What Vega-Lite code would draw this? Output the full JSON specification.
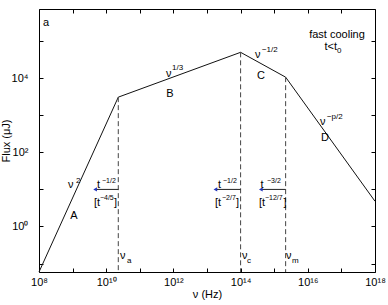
{
  "$schema": "https://vega.github.io/schema/vega-lite/v6.json",
  "autosize": {"type": "none"},
  "padding": {"left": 39, "top": 9, "right": 13, "bottom": 33},
  "width": 336,
  "height": 263,
  "background": "white",
  "config": {
    "view": {"stroke": "#000", "strokeWidth": 1},
    "font": "Liberation Sans",
    "axis": {"grid": false, "domain": false, "tickColor": "#000", "tickSize": -4, "labelColor": "#000", "labelFont": "Liberation Sans", "labelFontSize": 11, "titleFont": "Liberation Sans", "titleFontSize": 11, "titleFontWeight": "normal", "titleColor": "#000"}
  },
  "datasets": {
    "spectrum": [
      {"nu": 1e8, "flux": 0.059},
      {"nu": 2.29e10, "flux": 3090},
      {"nu": 1e14, "flux": 50100},
      {"nu": 2.19e15, "flux": 10700},
      {"nu": 1e18, "flux": 4.79}
    ],
    "breaks": [
      {"nu": 2.29e10, "flux": 3090, "base": 0.059},
      {"nu": 1e14, "flux": 50100, "base": 0.059},
      {"nu": 2.19e15, "flux": 10700, "base": 0.059}
    ],
    "arrows": [
      {"from": 4.68e9, "to": 2.29e10, "flux": 10},
      {"from": 1.78e13, "to": 1e14, "flux": 10},
      {"from": 4.0e14, "to": 2.19e15, "flux": 10}
    ],
    "textLeft": [
      {"nu": 1.32e8, "flux": 3.1e5, "t": "a"},
      {"nu": 6.0e11, "flux": 1.3e4, "t": "ν"},
      {"nu": 2.7e14, "flux": 4.25e4, "t": "ν"},
      {"nu": 2.3e16, "flux": 659, "t": "ν"},
      {"nu": 7.3e8, "flux": 13.1, "t": "ν"},
      {"nu": 5.3e9, "flux": 13.1, "t": "t"},
      {"nu": 4.3e9, "flux": 4.29, "t": "[t"},
      {"nu": 1.7e10, "flux": 4.29, "t": "]"},
      {"nu": 2.12e13, "flux": 13.1, "t": "t"},
      {"nu": 1.72e13, "flux": 4.29, "t": "[t"},
      {"nu": 7.3e13, "flux": 4.29, "t": "]"},
      {"nu": 3.9e14, "flux": 13.1, "t": "t"},
      {"nu": 3.5e14, "flux": 4.29, "t": "[t"},
      {"nu": 1.9e15, "flux": 4.29, "t": "]"},
      {"nu": 2.58e10, "flux": 0.159, "t": "ν"},
      {"nu": 1.10e14, "flux": 0.159, "t": "ν"},
      {"nu": 2.24e15, "flux": 0.159, "t": "ν"}
    ],
    "textCenter": [
      {"nu": 7.9e11, "flux": 3760, "t": "B"},
      {"nu": 4.05e14, "flux": 1.15e4, "t": "C"},
      {"nu": 3.25e16, "flux": 244, "t": "D"},
      {"nu": 1.1e9, "flux": 1.91, "t": "A"},
      {"nu": 7.4e16, "flux": 1.47e5, "t": "fast cooling"}
    ],
    "textRight": [
      {"nu": 7.4e16, "flux": 6.98e4, "t": "t<t"}
    ],
    "supNu": [
      {"nu": 9.1e11, "flux": 1.89e4, "t": "1/3"},
      {"nu": 4.3e14, "flux": 5.8e4, "t": "−1/2"},
      {"nu": 3.7e16, "flux": 900, "t": "−p/2"},
      {"nu": 1.26e9, "flux": 16.8, "t": "2"},
      {"nu": 7.4e16, "flux": 5.45e4, "t": "0"},
      {"nu": 4.16e10, "flux": 0.117, "t": "a"},
      {"nu": 1.55e14, "flux": 0.117, "t": "c"},
      {"nu": 3.39e15, "flux": 0.117, "t": "m"}
    ],
    "supT": [
      {"nu": 7.5e9, "flux": 16.8, "t": "−1/2"},
      {"nu": 6.5e9, "flux": 5.85, "t": "−4/5"},
      {"nu": 2.99e13, "flux": 16.8, "t": "−1/2"},
      {"nu": 2.8e13, "flux": 5.85, "t": "−2/7"},
      {"nu": 6.1e14, "flux": 16.8, "t": "−3/2"},
      {"nu": 5.3e14, "flux": 5.85, "t": "−12/7"}
    ]
  },
  "resolve": {"axis": {"x": "independent", "y": "independent"}},
  "layer": [
    {
      "data": {"name": "spectrum"},
      "mark": {"type": "line", "color": "#111", "strokeWidth": 1},
      "encoding": {
        "x": {"field": "nu", "type": "quantitative", "scale": {"type": "log", "domain": [1e8, 1e18], "nice": false},
          "axis": {"orient": "bottom", "title": "ν (Hz)", "values": [1e8, 1e9, 1e10, 1e11, 1e12, 1e13, 1e14, 1e15, 1e16, 1e17, 1e18], "labelPadding": 8, "titlePadding": 1, "labelFlush": false,
            "labelExpr": "round(log(datum.value)/LN10) == 8 ? '10⁸' : round(log(datum.value)/LN10) == 10 ? '10¹⁰' : round(log(datum.value)/LN10) == 12 ? '10¹²' : round(log(datum.value)/LN10) == 14 ? '10¹⁴' : round(log(datum.value)/LN10) == 16 ? '10¹⁶' : round(log(datum.value)/LN10) == 18 ? '10¹⁸' : ''"}},
        "y": {"field": "flux", "type": "quantitative", "scale": {"type": "log", "domain": [0.059, 7.4e5], "nice": false},
          "axis": {"orient": "left", "title": "Flux (μJ)", "values": [0.1, 1, 10, 100, 1000, 1e4, 1e5], "labelPadding": 15, "titlePadding": 0, "labelFlush": false,
            "labelExpr": "round(log(datum.value)/LN10) == 0 ? '10⁰' : round(log(datum.value)/LN10) == 2 ? '10²' : round(log(datum.value)/LN10) == 4 ? '10⁴' : ''"}}
      }
    },
    {
      "data": {"name": "breaks"},
      "mark": {"type": "rule", "color": "#444", "strokeWidth": 1, "strokeDash": [5, 3]},
      "encoding": {
        "x": {"field": "nu", "type": "quantitative", "axis": {"orient": "top", "title": null, "labels": false, "values": [1e8, 1e9, 1e10, 1e11, 1e12, 1e13, 1e14, 1e15, 1e16, 1e17, 1e18]}},
        "y": {"field": "flux", "type": "quantitative", "axis": {"orient": "right", "title": null, "labels": false, "values": [0.1, 1, 10, 100, 1000, 1e4, 1e5]}},
        "y2": {"field": "base"}
      }
    },
    {
      "data": {"name": "arrows"},
      "mark": {"type": "rule", "color": "#222", "strokeWidth": 1},
      "encoding": {
        "x": {"field": "from", "type": "quantitative", "axis": null},
        "x2": {"field": "to"},
        "y": {"field": "flux", "type": "quantitative", "axis": null}
      }
    },
    {
      "data": {"name": "arrows"},
      "mark": {"type": "point", "shape": "triangle-left", "filled": true, "color": "#2233bb", "size": 18, "opacity": 1},
      "encoding": {
        "x": {"field": "from", "type": "quantitative", "axis": null},
        "y": {"field": "flux", "type": "quantitative", "axis": null}
      }
    },
    {
      "data": {"name": "textLeft"},
      "mark": {"type": "text", "align": "left", "baseline": "middle", "fontSize": 11, "color": "#000", "font": "Liberation Sans"},
      "encoding": {
        "x": {"field": "nu", "type": "quantitative", "axis": null},
        "y": {"field": "flux", "type": "quantitative", "axis": null},
        "text": {"field": "t"}
      }
    },
    {
      "data": {"name": "textCenter"},
      "mark": {"type": "text", "align": "center", "baseline": "middle", "fontSize": 11, "color": "#000", "font": "Liberation Sans"},
      "encoding": {
        "x": {"field": "nu", "type": "quantitative", "axis": null},
        "y": {"field": "flux", "type": "quantitative", "axis": null},
        "text": {"field": "t"}
      }
    },
    {
      "data": {"name": "textRight"},
      "mark": {"type": "text", "align": "right", "baseline": "middle", "fontSize": 11, "color": "#000", "font": "Liberation Sans"},
      "encoding": {
        "x": {"field": "nu", "type": "quantitative", "axis": null},
        "y": {"field": "flux", "type": "quantitative", "axis": null},
        "text": {"field": "t"}
      }
    },
    {
      "data": {"name": "supNu"},
      "mark": {"type": "text", "align": "left", "baseline": "middle", "fontSize": 8, "color": "#000", "font": "Liberation Sans"},
      "encoding": {
        "x": {"field": "nu", "type": "quantitative", "axis": null},
        "y": {"field": "flux", "type": "quantitative", "axis": null},
        "text": {"field": "t"}
      }
    },
    {
      "data": {"name": "supT"},
      "mark": {"type": "text", "align": "left", "baseline": "middle", "fontSize": 7, "color": "#000", "font": "Liberation Sans"},
      "encoding": {
        "x": {"field": "nu", "type": "quantitative", "axis": null},
        "y": {"field": "flux", "type": "quantitative", "axis": null},
        "text": {"field": "t"}
      }
    }
  ]
}
